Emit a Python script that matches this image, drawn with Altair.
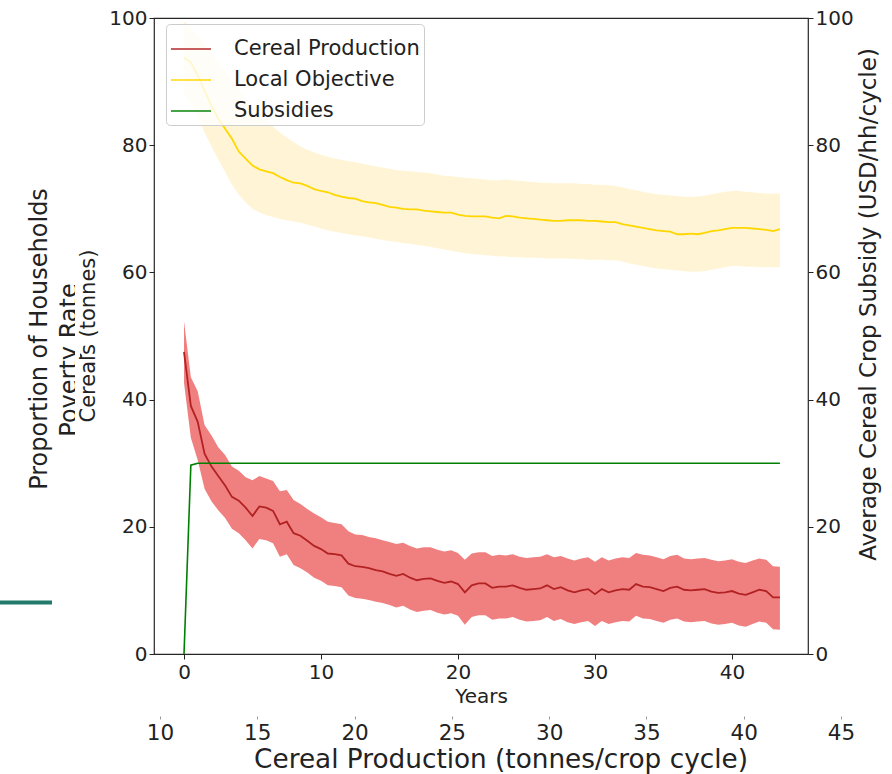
import altair as alt
import pandas as pd

# ---------------- data ----------------
years = [0.0, 0.5, 1.0, 1.5, 2.0, 2.5, 3.0, 3.5, 4.0, 4.5, 5.0, 5.5, 6.0, 6.5, 7.0, 7.5,
         8.0, 8.5, 9.0, 9.5, 10.0, 10.5, 11.0, 11.5, 12.0, 12.5, 13.0, 13.5, 14.0, 14.5,
         15.0, 15.5, 16.0, 16.5, 17.0, 17.5, 18.0, 18.5, 19.0, 19.5, 20.0, 20.5, 21.0,
         21.5, 22.0, 22.5, 23.0, 23.5, 24.0, 24.5, 25.0, 25.5, 26.0, 26.5, 27.0, 27.5,
         28.0, 28.5, 29.0, 29.5, 30.0, 30.5, 31.0, 31.5, 32.0, 32.5, 33.0, 33.5, 34.0,
         34.5, 35.0, 35.5, 36.0, 36.5, 37.0, 37.5, 38.0, 38.5, 39.0, 39.5, 40.0, 40.5,
         41.0, 41.5, 42.0, 42.5, 43.0, 43.5]

cereal_mean = [47.5, 39.0, 36.5, 31.5, 29.5, 28.0, 26.5, 24.7, 24.1, 23.0, 21.7, 23.2,
               23.0, 22.5, 20.4, 20.8, 19.0, 18.6, 17.8, 17.0, 16.5, 15.8, 15.7, 15.5,
               14.2, 13.8, 13.7, 13.5, 13.2, 13.0, 12.6, 12.3, 12.6, 12.0, 11.6, 11.8,
               11.9, 11.5, 11.2, 11.4, 11.0, 9.7, 10.8, 11.1, 11.1, 10.4, 10.6, 10.6,
               10.8, 10.4, 10.1, 10.2, 10.3, 10.8, 10.2, 10.5, 10.0, 9.7, 10.0, 10.2,
               9.4, 10.2, 9.7, 10.0, 10.2, 10.1, 11.0, 10.6, 10.5, 10.2, 9.9, 10.4,
               10.6, 10.1, 10.0, 10.1, 10.2, 9.8, 9.6, 9.7, 9.9, 9.5, 9.3, 9.7, 10.1,
               9.9, 8.9, 8.9]
cereal_high = [52.3, 43.5, 41.3, 36.0, 34.4, 32.5, 31.3, 29.5, 28.8, 27.8, 27.3, 28.0,
               27.6, 27.2, 25.6, 25.8, 24.2, 23.6, 22.8, 22.1, 21.5, 20.8, 20.6, 20.4,
               19.3, 18.8, 18.7, 18.4, 18.2, 17.9, 17.6, 17.3, 17.5, 17.0, 16.6, 16.8,
               16.8, 16.4, 16.1, 16.3, 15.9, 14.8, 15.8, 16.0, 16.0, 15.4, 15.6, 15.5,
               15.7, 15.3, 15.1, 15.2, 15.3, 15.7, 15.2, 15.4, 15.0, 14.7, 15.0, 15.2,
               14.5, 15.2, 14.7, 15.0, 15.2, 15.1, 15.9, 15.6, 15.5, 15.2, 14.9, 15.4,
               15.6, 15.0, 14.9, 15.0, 15.1, 14.8, 14.6, 14.7, 14.9, 14.5, 14.3, 14.7,
               15.0, 14.8, 13.8, 13.7]
cereal_low = [42.6, 34.0, 30.5, 26.0, 24.0, 22.6, 21.4, 19.7, 19.0, 17.9, 16.6, 18.1,
              17.9, 17.4, 15.3, 15.7, 14.0, 13.5, 12.8, 12.0, 11.5, 10.8, 10.7, 10.5,
              9.2, 8.8, 8.7, 8.5, 8.2, 8.0, 7.7, 7.3, 7.6, 7.0, 6.6, 6.8,
              6.9, 6.5, 6.2, 6.4, 6.0, 4.6, 5.8, 6.1, 6.1, 5.4, 5.6, 5.6,
              5.8, 5.4, 5.1, 5.2, 5.3, 5.8, 5.2, 5.5, 5.0, 4.7, 5.0, 5.2,
              4.4, 5.2, 4.7, 5.0, 5.2, 5.1, 6.0, 5.6, 5.5, 5.2, 4.9, 5.4,
              5.6, 5.1, 5.0, 5.1, 5.2, 4.8, 4.6, 4.7, 4.9, 4.5, 4.3, 4.7,
              5.1, 4.9, 3.9, 3.8]

objective_mean = [93.8, 93.0, 91.0, 88.6, 86.2, 84.2, 82.6, 81.0, 79.0, 77.9, 76.8, 76.2,
                  75.9, 75.6, 75.0, 74.5, 74.1, 74.0, 73.6, 73.1, 72.8, 72.6, 72.2, 71.9,
                  71.7, 71.6, 71.2, 71.0, 70.9, 70.6, 70.3, 70.2, 70.0, 69.9, 69.9, 69.7,
                  69.6, 69.5, 69.4, 69.4, 69.1, 68.9, 68.8, 68.8, 68.8, 68.6, 68.5, 68.9,
                  68.8, 68.6, 68.5, 68.4, 68.3, 68.2, 68.1, 68.1, 68.2, 68.2, 68.2, 68.1,
                  68.1, 68.0, 67.9, 67.9, 67.6, 67.4, 67.2, 67.0, 66.8, 66.6, 66.5, 66.4,
                  66.0, 66.0, 66.1, 66.0, 66.2, 66.5, 66.6, 66.8, 67.0, 67.0, 67.0, 66.9,
                  66.8, 66.7, 66.5, 66.8]
objective_high = [99.5, 98.5, 97.2, 95.8, 94.4, 93.0, 91.6, 90.2, 88.8, 87.5, 86.2, 85.0,
                  83.9, 82.9, 82.0, 81.2, 80.5, 79.8, 79.3, 78.9, 78.5, 78.2, 77.9, 77.7,
                  77.5, 77.3, 77.1, 76.9, 76.7, 76.5, 76.3, 76.1, 76.0, 75.9, 75.8, 75.7,
                  75.6, 75.4, 75.2, 75.1, 75.0, 74.9, 74.8, 74.7, 74.6, 74.5, 74.5, 74.6,
                  74.5, 74.4, 74.3, 74.2, 74.1, 74.1, 74.0, 74.0, 74.0, 74.0, 73.9, 73.9,
                  73.8, 73.8, 73.7, 73.6, 73.4, 73.1, 72.9, 72.7, 72.5, 72.3, 72.2, 72.1,
                  72.0, 71.9, 71.9, 71.9, 72.1, 72.3, 72.5, 72.7, 72.8, 72.8, 72.7, 72.6,
                  72.5, 72.4, 72.4, 72.4]
objective_low = [88.0, 86.5, 84.5, 82.0, 79.8, 77.8, 75.8, 73.8, 72.2, 71.0, 70.0, 69.4,
                 69.0, 68.7, 68.4, 68.2, 68.0, 67.8, 67.5, 67.2, 66.9, 66.6, 66.4, 66.2,
                 66.0, 65.8, 65.7, 65.5, 65.3, 65.1, 64.9, 64.8, 64.6, 64.5, 64.3, 64.2,
                 64.0, 63.8, 63.6, 63.4, 63.2, 63.0, 62.9, 62.8, 62.7, 62.6, 62.5, 62.5,
                 62.4, 62.4, 62.3, 62.3, 62.3, 62.2, 62.2, 62.2, 62.2, 62.1, 62.1, 62.0,
                 62.0, 62.0, 61.9, 61.9, 61.7, 61.4, 61.2, 61.0, 60.8, 60.6, 60.5, 60.4,
                 60.3, 60.2, 60.1, 60.1, 60.2, 60.4, 60.6, 60.8, 61.0, 61.0, 60.9, 60.9,
                 60.8, 60.8, 60.8, 60.8]

subsidies = [0.0, 29.7, 30.0, 30.0, 30.0, 30.0, 30.0, 30.0, 30.0, 30.0, 30.0, 30.0,
             30.0, 30.0, 30.0, 30.0, 30.0, 30.0, 30.0, 30.0, 30.0, 30.0, 30.0, 30.0,
             30.0, 30.0, 30.0, 30.0, 30.0, 30.0, 30.0, 30.0, 30.0, 30.0, 30.0, 30.0,
             30.0, 30.0, 30.0, 30.0, 30.0, 30.0, 30.0, 30.0, 30.0, 30.0, 30.0, 30.0,
             30.0, 30.0, 30.0, 30.0, 30.0, 30.0, 30.0, 30.0, 30.0, 30.0, 30.0, 30.0,
             30.0, 30.0, 30.0, 30.0, 30.0, 30.0, 30.0, 30.0, 30.0, 30.0, 30.0, 30.0,
             30.0, 30.0, 30.0, 30.0, 30.0, 30.0, 30.0, 30.0, 30.0, 30.0, 30.0, 30.0,
             30.0, 30.0, 30.0, 30.0]

series_names = ["Cereal Production", "Local Objective", "Subsidies"]
series_colors = ["#b22222", "#ffd700", "#008000"]

year_ticks = [0, 10, 20, 30, 40]
value_ticks = [0, 20, 40, 60, 80, 100]
production_ticks = [10, 15, 20, 25, 30, 35, 40, 45]

left_titles = ["Proportion of Households", "Poverty Rate", "Cereals (tonnes)"]

# ---------------- tables ----------------
FONT = "DejaVu Sans"
TXT = "#222222"
W, H = 654, 636

bands = pd.DataFrame({
    "year": years,
    "cereal_low": cereal_low, "cereal_high": cereal_high,
    "objective_low": objective_low, "objective_high": objective_high,
})
lines = pd.concat([
    pd.DataFrame({"year": years, "value": cereal_mean, "series": series_names[0]}),
    pd.DataFrame({"year": years, "value": objective_mean, "series": series_names[1]}),
])
subs = pd.DataFrame({"year": years, "subsidy": subsidies, "series": series_names[2]})

x_scale = alt.Scale(domain=[-2.19, 45.55], nice=False, zero=False)
x_axis = alt.Axis(values=year_ticks, title="Years", grid=False, domain=False,
                  tickSize=5, tickColor=TXT, labelPadding=3, labelFontSize=20,
                  labelColor=TXT, titleFontSize=20, titleFontWeight="normal",
                  titleColor=TXT, titlePadding=4, format="d")
y_scale = alt.Scale(domain=[0, 100], nice=False)
y_axis = alt.Axis(values=value_ticks, title=None, grid=False, domain=False,
                  tickSize=5, tickColor=TXT, labelPadding=2, labelFontSize=20,
                  labelColor=TXT)

color = alt.Color(
    "series:N",
    scale=alt.Scale(domain=series_names, range=series_colors),
    legend=alt.Legend(
        title=None, orient="none", legendX=12, legendY=6,
        symbolType="stroke", symbolSize=1600, symbolStrokeWidth=2,
        symbolOpacity=0.72, labelFontSize=21, labelColor=TXT, labelFont=FONT,
        labelOffset=22, labelLimit=0, rowPadding=-8.5, padding=4,
        fillColor="rgba(255,255,255,0.8)", strokeColor="#cccccc",
        cornerRadius=4,
    ),
)

base = alt.Chart(bands)
obj_band = base.mark_area(color="#fff5d6", opacity=1).encode(
    x=alt.X("year:Q", scale=x_scale, axis=x_axis),
    y=alt.Y("objective_low:Q", scale=y_scale, axis=y_axis),
    y2="objective_high:Q",
)
cer_band = base.mark_area(color="#f08080", opacity=1).encode(
    x=alt.X("year:Q", scale=x_scale, axis=x_axis),
    y=alt.Y("cereal_low:Q", scale=y_scale, axis=y_axis),
    y2="cereal_high:Q",
)
mean_lines = alt.Chart(lines).mark_line(strokeWidth=1.8).encode(
    x=alt.X("year:Q", scale=x_scale, axis=x_axis),
    y=alt.Y("value:Q", scale=y_scale, axis=y_axis),
    color=color,
    detail="series:N",
)
left_part = alt.layer(obj_band, cer_band, mean_lines)

sub_line = alt.Chart(subs).mark_line(strokeWidth=1.6).encode(
    x=alt.X("year:Q", scale=x_scale, axis=x_axis),
    y=alt.Y("subsidy:Q", scale=alt.Scale(domain=[0, 100], nice=False),
            axis=alt.Axis(orient="right", values=value_ticks, grid=False,
                          domain=False, tickSize=5, tickColor=TXT,
                          labelPadding=2, labelFontSize=20, labelColor=TXT,
                          title="Average Cereal Crop Subsidy (USD/hh/cycle)",
                          titleFontSize=23, titleFontWeight="normal",
                          titleColor=TXT, titleAngle=270, titleBaseline="top",
                          titleAlign="center", titleX=49, titleY=286)),
    color=color,
)
main = alt.layer(left_part, sub_line).resolve_scale(y="independent")

# second horizontal axis (Cereal Production)
prod_df = pd.DataFrame({"production": production_ticks})
prod_axis = alt.Chart(prod_df).mark_point(opacity=0).encode(
    x=alt.X("production:Q",
            scale=alt.Scale(domain=[10, 45], range=[6, 687], nice=False, zero=False),
            axis=alt.Axis(orient="bottom", offset=62, values=production_ticks,
                          domain=False, grid=False, tickSize=3, tickColor="#999999",
                          labelPadding=3, labelFontSize=21.5, labelColor=TXT,
                          labelFlush=False, labelOverlap=False,
                          title="Cereal Production (tonnes/crop cycle)",
                          titleFontSize=26.3, titleFontWeight="normal",
                          titleColor=TXT, titlePadding=3)),
    y=alt.value(0),
)

# left stacked titles and decoration
one = pd.DataFrame({"t": [0]})
t_prop = alt.Chart(pd.DataFrame({"label": [left_titles[0]]})).mark_text(
    angle=270, fontSize=24, font=FONT, color=TXT, align="center", baseline="alphabetic"
).encode(text="label:N", x=alt.value(-107), y=alt.value(321))
t_pov = alt.Chart(pd.DataFrame({"label": [left_titles[1]]})).mark_text(
    angle=270, fontSize=24, font=FONT, color=TXT, align="center", baseline="alphabetic"
).encode(text="label:N", x=alt.value(-77), y=alt.value(342))
mask = alt.Chart(one).mark_rect(color="white").encode(
    x=alt.value(-79), x2=alt.value(-74), y=alt.value(240), y2=alt.value(445))
t_cer = alt.Chart(pd.DataFrame({"label": [left_titles[2]]})).mark_text(
    angle=270, fontSize=21, font=FONT, color=TXT, align="center", baseline="alphabetic"
).encode(text="label:N", x=alt.value(-59), y=alt.value(318))
teal = alt.Chart(one).mark_rule(color="#217a6b", strokeWidth=4).encode(
    x=alt.value(-154), x2=alt.value(-102), y=alt.value(584.5))

chart = alt.layer(main, prod_axis, t_prop, t_pov, mask, t_cer, teal).resolve_scale(
    x="independent"
).properties(
    width=W, height=H,
    autosize=alt.AutoSizeParams(type="none"),
    padding={"left": 154, "top": 18, "right": 84, "bottom": 120},
).configure(font=FONT).configure_view(
    stroke="#262626", strokeWidth=1.2
).configure_axis(labelFont=FONT, titleFont=FONT)

chart.save("out.html", embed_options={"renderer": "svg", "actions": False})
